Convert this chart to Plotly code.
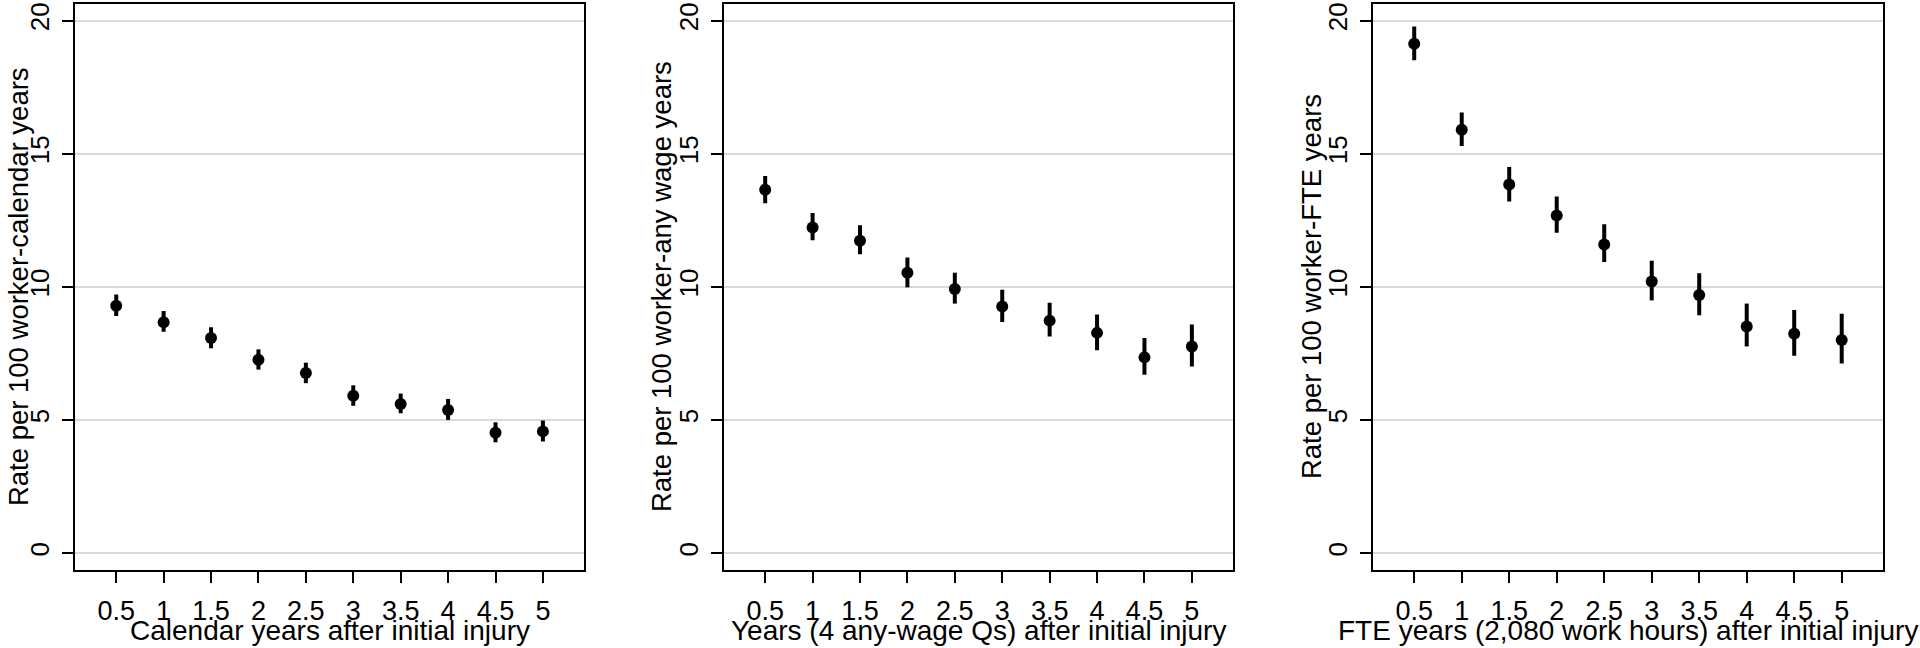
import plotly.graph_objects as go
from plotly.subplots import make_subplots

# years after initial injury (x positions, shared by all panels)
years = [0.5, 1, 1.5, 2, 2.5, 3, 3.5, 4, 4.5, 5]
x_ticklabels = ["0.5", "1", "1.5", "2", "2.5", "3", "3.5", "4", "4.5", "5"]
y_ticks = [0, 5, 10, 15, 20]

# Panel 1: rate per 100 worker-calendar years
cal_rate = [9.29, 8.67, 8.08, 7.26, 6.76, 5.91, 5.60, 5.37, 4.52, 4.57]
cal_upper = [9.71, 9.09, 8.48, 7.65, 7.15, 6.30, 5.99, 5.79, 4.91, 4.98]
cal_lower = [8.90, 8.31, 7.69, 6.89, 6.38, 5.53, 5.25, 5.00, 4.16, 4.19]

# Panel 2: rate per 100 worker-any wage years
wage_rate = [13.65, 12.23, 11.73, 10.53, 9.92, 9.26, 8.73, 8.27, 7.35, 7.76]
wage_upper = [14.16, 12.77, 12.31, 11.10, 10.53, 9.89, 9.40, 8.96, 8.08, 8.58]
wage_lower = [13.14, 11.75, 11.22, 9.98, 9.37, 8.68, 8.13, 7.62, 6.70, 7.01]

# Panel 3: rate per 100 worker-FTE years
fte_rate = [19.13, 15.90, 13.84, 12.68, 11.59, 10.20, 9.69, 8.51, 8.24, 8.00]
fte_upper = [19.78, 16.55, 14.50, 13.39, 12.35, 10.98, 10.51, 9.37, 9.13, 8.99]
fte_lower = [18.51, 15.29, 13.20, 12.03, 10.93, 9.49, 8.93, 7.76, 7.41, 7.12]

x_titles = [
    "Calendar years after initial injury",
    "Years (4 any-wage Qs) after initial injury",
    "FTE years (2,080 work hours) after initial injury",
]
y_titles = [
    "Rate per 100 worker-calendar years",
    "Rate per 100 worker-any wage years",
    "Rate per 100 worker-FTE years",
]

panels = [
    (cal_rate, cal_upper, cal_lower),
    (wage_rate, wage_upper, wage_lower),
    (fte_rate, fte_upper, fte_lower),
]

FONT = "Liberation Sans, Arial, sans-serif"

fig = make_subplots(rows=1, cols=3)

x_domains = [[0.0391, 0.3042], [0.3771, 0.6422], [0.7151, 0.9807]]
y_domain = [0.1204, 0.997]
# horizontal centre of each rotated y title, as a fraction of the page width
y_title_x = [18 / 1920, 661 / 1920, 1311 / 1920]

for i, (rate, upper, lower) in enumerate(panels):
    fig.add_trace(
        go.Scatter(
            x=years,
            y=rate,
            mode="markers",
            marker=dict(color="black", size=12),
            error_y=dict(
                type="data",
                symmetric=False,
                array=[u - r for u, r in zip(upper, rate)],
                arrayminus=[r - l for r, l in zip(rate, lower)],
                color="black",
                thickness=4,
                width=0,
            ),
            showlegend=False,
            hoverinfo="x+y",
        ),
        row=1,
        col=i + 1,
    )

    fig.update_xaxes(
        domain=x_domains[i],
        range=[0.066, 5.434],
        tickvals=years,
        ticktext=x_ticklabels,
        ticks="outside",
        ticklen=11,
        tickwidth=2,
        tickcolor="black",
        ticklabelstandoff=4,
        showline=True,
        linecolor="black",
        linewidth=2,
        mirror=True,
        showgrid=False,
        zeroline=False,
        tickfont=dict(family=FONT, size=27, color="black"),
        row=1,
        col=i + 1,
    )
    fig.update_yaxes(
        domain=y_domain,
        range=[-0.645, 20.625],
        tickvals=y_ticks,
        tickangle=-90,
        ticks="outside",
        ticklen=11,
        tickwidth=2,
        tickcolor="black",
        ticklabelstandoff=3,
        showline=True,
        linecolor="black",
        linewidth=2,
        mirror=True,
        showgrid=True,
        gridcolor="#d9d9d9",
        gridwidth=2,
        zeroline=False,
        tickfont=dict(family=FONT, size=26, color="black"),
        row=1,
        col=i + 1,
    )

    # axis titles as annotations so they sit exactly where the reference has them
    fig.add_annotation(
        text=x_titles[i],
        xref="paper",
        yref="paper",
        x=sum(x_domains[i]) / 2,
        y=0,
        xanchor="center",
        yanchor="bottom",
        showarrow=False,
        font=dict(family=FONT, size=28, color="black"),
    )
    fig.add_annotation(
        text=y_titles[i],
        xref="paper",
        yref="paper",
        x=y_title_x[i],
        y=sum(y_domain) / 2,
        xanchor="center",
        yanchor="middle",
        textangle=-90,
        showarrow=False,
        font=dict(family=FONT, size=27.5, color="black"),
    )

fig.update_layout(
    width=1920,
    height=648,
    margin=dict(l=0, r=0, t=0, b=0),
    plot_bgcolor="white",
    paper_bgcolor="white",
    font=dict(family=FONT, size=26, color="black"),
)

# drop the browser's default body margin so the figure fills the window
fig.write_html(
    "out.html",
    config={"displayModeBar": False},
    post_script="document.body.style.margin='0';",
)
